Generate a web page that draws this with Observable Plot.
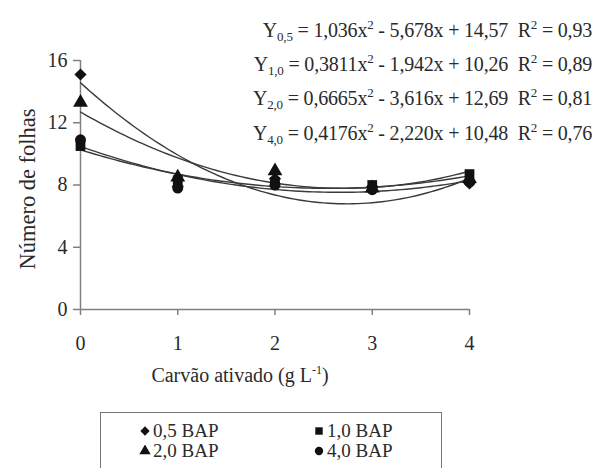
<!DOCTYPE html>
<html>
<head>
<meta charset="utf-8">
<script src="https://cdn.jsdelivr.net/npm/d3@7"></script>
<script src="https://cdn.jsdelivr.net/npm/@observablehq/plot@0.6"></script>
<style>
  html, body { margin: 0; padding: 0; background: #fff; }
  #wrap { position: relative; width: 603px; height: 468px; overflow: hidden; font-family: "Liberation Serif", "Tinos", "Times New Roman", Times, "DejaVu Serif", serif; color: #2a2a2a; }
  #wrap svg.plot { position: absolute; left: 0; top: 0; }
  .eq { position: absolute; right: 11px; font-size: 20px; white-space: nowrap; line-height: 1; letter-spacing: -0.2px; }
  .eq sub { font-size: 13px; vertical-align: -4px; line-height: 0; }
  .eq sup { font-size: 13px; vertical-align: 8px; line-height: 0; }
  #xlab { position: absolute; left: 120px; width: 240px; top: 365px; text-align: center; font-size: 20px; line-height: 1; white-space: nowrap; }
  #xlab sup { font-size: 12px; vertical-align: 8px; line-height: 0; }
  #legend { position: absolute; left: 100px; top: 412px; width: 342px; height: 80px; border: 1.5px solid #777; box-sizing: border-box; }
  .li { position: absolute; font-size: 19px; line-height: 19px; height: 19px; white-space: nowrap; }
  .li svg { position: absolute; left: 0; top: 4px; }
  .li span { position: absolute; left: 14px; top: 0; }
</style>
</head>
<body>
<div id="wrap"></div>
<script>
// Data
const carvao = [0, 1, 2, 3, 4];
const series = ["0,5 BAP", "1,0 BAP", "2,0 BAP", "4,0 BAP"];
const symbols = ["diamond2", "square", "triangle", "circle"];
const bap05 = [15.1, 7.9, 8.4, 7.9, 8.1];
const bap10 = [10.5, 8.3, 8.2, 8.0, 8.7];
const bap20 = [13.3, 8.5, 8.9, 7.8, 8.4];
const bap40 = [10.9, 7.8, 8.0, 7.7, 8.2];
const values = [bap05, bap10, bap20, bap40];
// Regression coefficients shown in the chart (a x² + b x + c)
const coefA = [1.036, 0.3811, 0.6665, 0.4176];
const coefB = [-5.678, -1.942, -3.616, -2.220];
const coefC = [14.57, 10.26, 12.69, 10.48];
const eqNames = ["0,5", "1,0", "2,0", "4,0"];
const eqA = ["1,036", "0,3811", "0,6665", "0,4176"];
const eqB = ["5,678", "1,942", "3,616", "2,220"];
const eqC = ["14,57", "10,26", "12,69", "10,48"];
const eqR2 = ["0,93", "0,89", "0,81", "0,76"];
const yTicks = [0, 4, 8, 12, 16];
const xTicks = [0, 1, 2, 3, 4];

const points = [];
series.forEach((s, i) => carvao.forEach((x, j) => points.push({serie: s, x, y: values[i][j]})));

const xs = d3.range(0, 4.0001, 0.05);
const curves = [];
series.forEach((s, i) => xs.forEach(x => curves.push({serie: s, x, y: coefA[i] * x * x + coefB[i] * x + coefC[i]})));

const axisColor = "#808080";
const textColor = "#2a2a2a";
const serif = "'Liberation Serif', Tinos, 'Times New Roman', Times, 'DejaVu Serif', serif";

const chart = Plot.plot({
  width: 603,
  height: 468,
  marginLeft: 80,
  marginRight: 134,
  marginTop: 60,
  marginBottom: 159,
  style: { fontFamily: serif, fontSize: "21px", color: textColor, background: "transparent" },
  x: { domain: [0, 4] },
  y: { domain: [0, 16] },
  symbol: { domain: series, range: symbols },
  marks: [
    Plot.ruleX([0], { y1: 0, y2: 16, stroke: axisColor, strokeWidth: 1.5 }),
    Plot.ruleY([0], { x1: 0, x2: 4, stroke: axisColor, strokeWidth: 1.5 }),
    Plot.axisY({ ticks: yTicks, tickFormat: d => String(d), tickSize: 7, tickPadding: 6, label: null, stroke: axisColor, strokeWidth: 1.5, fill: textColor, fontSize: 20 }),
    Plot.axisX({ ticks: xTicks, tickFormat: d => String(d), tickSize: 6, tickPadding: 20, label: null, stroke: axisColor, strokeWidth: 1.5, fill: textColor, fontSize: 20 }),
    Plot.text(["Número de folhas"], { frameAnchor: "left", textAnchor: "middle", dx: -53, dy: 4, rotate: -90, fontSize: 22.5, fill: textColor }),
    Plot.line(curves, { x: "x", y: "y", z: "serie", stroke: "#3a3a3a", strokeWidth: 1.4 }),
    Plot.dot(points, { x: "x", y: "y", symbol: "serie", fill: "#111", stroke: "none", r: 5.5 })
  ]
});
chart.classList.add("plot");
const wrap = document.getElementById("wrap");
wrap.appendChild(chart);

// Equations (top right)
const eqTops = [20, 54, 88, 123];
eqNames.forEach((n, i) => {
  const d = document.createElement("div");
  d.className = "eq";
  d.style.top = eqTops[i] + "px";
  d.innerHTML = `Y<sub>${n}</sub> = ${eqA[i]}x<sup>2</sup> - ${eqB[i]}x + ${eqC[i]}&nbsp; R<sup>2</sup> = ${eqR2[i]}`;
  wrap.appendChild(d);
});

// x-axis label
const xl = document.createElement("div");
xl.id = "xlab";
xl.innerHTML = "Carvão ativado (g L<sup>-1</sup>)";
wrap.appendChild(xl);

// Legend
const leg = document.createElement("div");
leg.id = "legend";
wrap.appendChild(leg);
const legPos = [[38, 8], [212, 8], [38, 28], [212, 28]];
series.forEach((s, i) => {
  const it = document.createElement("div");
  it.className = "li";
  it.style.left = legPos[i][0] + "px";
  it.style.top = legPos[i][1] + "px";
  const sz = 12;
  const sym = { diamond2: d3.symbolDiamond2, square: d3.symbolSquare, triangle: d3.symbolTriangle, circle: d3.symbolCircle }[symbols[i]];
  const p = d3.symbol(sym, 55)();
  it.innerHTML = `<svg width="${sz}" height="${sz}" viewBox="${-sz/2} ${-sz/2} ${sz} ${sz}"><path d="${p}" fill="#111"/></svg><span>${s}</span>`;
  leg.appendChild(it);
});
</script>
</body>
</html>
